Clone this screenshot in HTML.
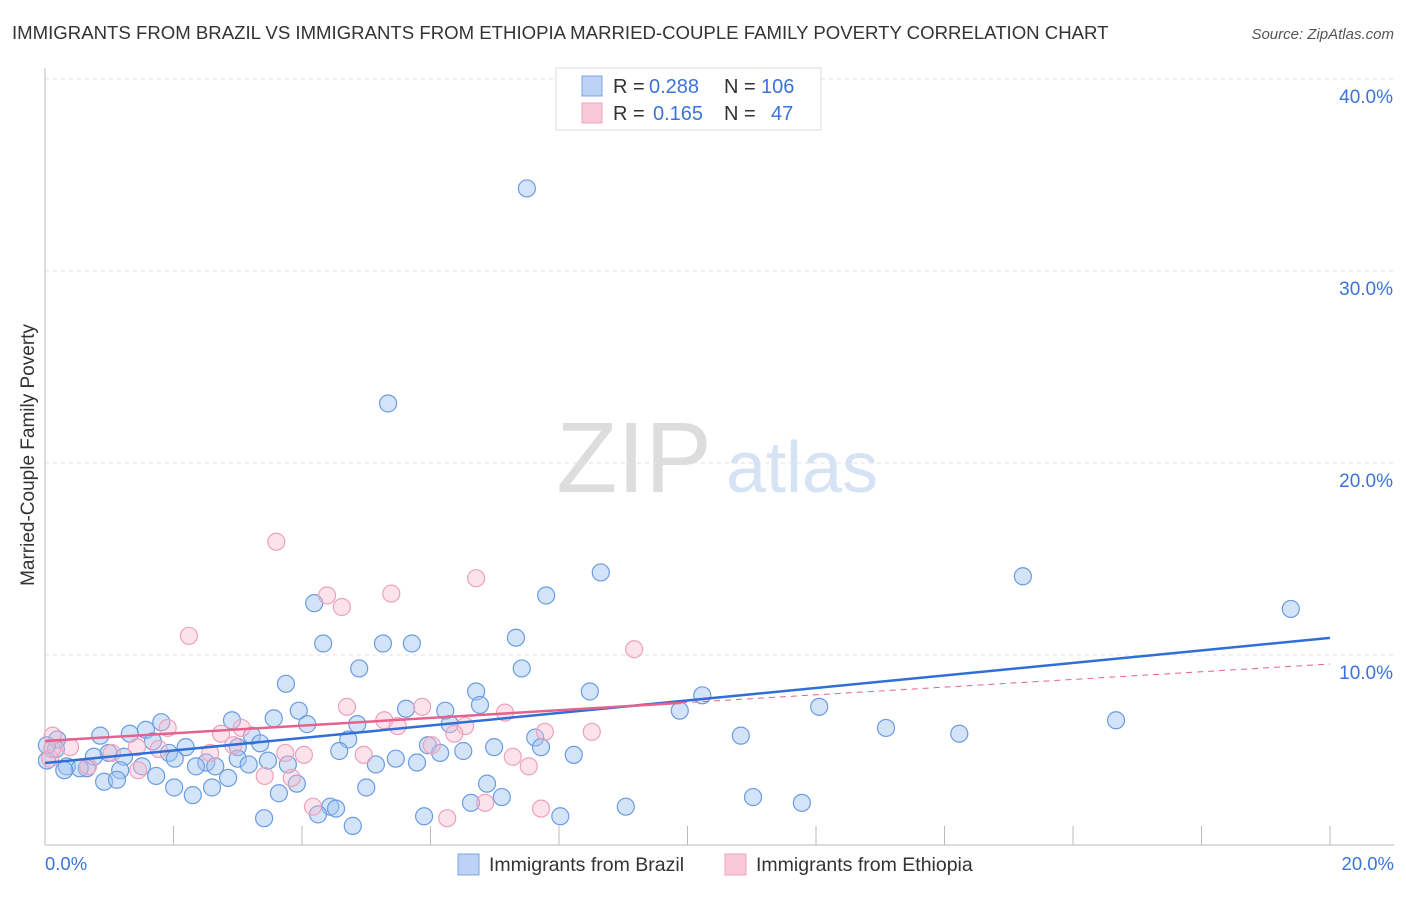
<!DOCTYPE html>
<html><head><meta charset="utf-8"><style>
body{margin:0;background:#fff;font-family:"Liberation Sans",sans-serif}
svg text{font-family:"Liberation Sans",sans-serif}
</style></head><body>
<svg id="chart" width="1406" height="892">
<text x="12" y="39" font-size="18.6" fill="#333">IMMIGRANTS FROM BRAZIL VS IMMIGRANTS FROM ETHIOPIA MARRIED-COUPLE FAMILY POVERTY CORRELATION CHART</text>
<text x="1394" y="39" font-size="15" fill="#555" font-style="italic" text-anchor="end">Source: ZipAtlas.com</text>
<text x="634" y="492" font-size="100" fill="#ddd" font-family="Liberation Serif" text-anchor="middle">ZIP</text>
<text x="802" y="492" font-size="72" fill="#d5e3f5" text-anchor="middle">atlas</text>
<g id="grid"></g><g id="ticks"></g>
<line x1="45" y1="68" x2="45" y2="845" stroke="#bbb"/>
<line x1="45" y1="845" x2="1394" y2="845" stroke="#bbb"/>
<text x="34" y="455" font-size="19" fill="#333" transform="rotate(-90 34 455)" text-anchor="middle">Married-Couple Family Poverty</text>
<text x="45" y="870" font-size="18.5" fill="#3a74d8">0.0%</text>
<text x="1394" y="870" font-size="18.5" fill="#3a74d8" text-anchor="end">20.0%</text>
<g id="pts"></g><g id="lines"></g>
<g>
<rect x="556" y="68" width="265" height="62" fill="#fff" stroke="#ddd"/>
<rect x="582" y="76" width="20" height="20" fill="#bcd3f5" stroke="#7aa5e6"/>
<rect x="582" y="103" width="20" height="20" fill="#f9c9d8" stroke="#eea3bd"/>
<text x="613" y="93" font-size="20" fill="#333">R =</text>
<text x="649" y="93" font-size="20" fill="#3a74d8">0.288</text>
<text x="724" y="93" font-size="20" fill="#333">N =</text>
<text x="761" y="93" font-size="20" fill="#3a74d8">106</text>
<text x="613" y="120" font-size="20" fill="#333">R =</text>
<text x="653" y="120" font-size="20" fill="#3a74d8">0.165</text>
<text x="724" y="120" font-size="20" fill="#333">N =</text>
<text x="771" y="120" font-size="20" fill="#3a74d8">47</text>
</g>
<g>
<rect x="458" y="854" width="21" height="21" fill="#bcd3f5" stroke="#7aa5e6"/>
<text x="489" y="871" font-size="19.5" fill="#333">Immigrants from Brazil</text>
<rect x="725" y="854" width="21" height="21" fill="#f9c9d8" stroke="#eea3bd"/>
<text x="756" y="871" font-size="19.5" fill="#333">Immigrants from Ethiopia</text>
</g>
</svg>
<script>
const yTicks=[10,20,30,40];
const yTickLabels=["10.0%","20.0%","30.0%","40.0%"];
const xTickVals=[0,2,4,6,8,10,12,14,16,18,20];
const brazilX=[7.50,5.34,8.65,15.22,19.39,7.80,4.19,7.33,4.33,5.26,5.71,4.89,7.42,3.75,6.71,8.48,10.23,6.77,3.95,5.62,6.23,9.88,12.05,16.67,3.56,2.91,4.08,4.86,6.30,1.81,1.57,1.32,0.86,13.09,14.23,10.83,7.63,3.22,4.72,0.19,7.72,3.35,5.96,1.68,2.19,3.00,6.99,6.51,6.15,4.58,0.17,0.99,1.93,8.23,1.23,0.76,2.02,3.47,5.46,3.00,5.79,2.51,3.17,3.78,5.15,0.03,0.34,1.51,2.35,2.65,0.65,0.54,0.30,1.17,1.73,2.85,0.92,1.12,6.88,3.92,2.01,2.60,5.00,3.64,2.30,11.02,7.11,6.63,11.78,4.44,4.53,9.04,4.25,3.41,5.90,8.02,4.79,0.03];
const brazilY=[34.3,23.1,14.3,14.1,12.4,13.1,12.7,10.9,10.6,10.6,10.6,9.3,9.3,8.5,8.1,8.1,7.9,7.4,7.1,7.2,7.1,7.1,7.3,6.6,6.7,6.6,6.4,6.4,6.4,6.5,6.1,5.9,5.8,6.2,5.9,5.8,5.7,5.8,5.6,5.6,5.2,5.4,5.3,5.5,5.2,5.2,5.2,5.0,4.9,5.0,5.1,4.9,4.9,4.8,4.7,4.7,4.6,4.5,4.6,4.6,4.4,4.4,4.3,4.3,4.3,4.5,4.2,4.2,4.2,4.2,4.1,4.1,4.0,4.0,3.7,3.6,3.4,3.5,3.3,3.3,3.1,3.1,3.1,2.8,2.7,2.6,2.6,2.3,2.3,2.1,2.0,2.1,1.7,1.5,1.6,1.6,1.1,5.3];
const ethX=[3.60,6.71,4.39,5.39,4.62,2.24,9.17,4.70,5.87,7.16,5.28,1.91,2.74,3.06,6.54,8.51,7.78,0.12,6.37,5.49,2.93,1.77,0.39,6.02,2.57,3.74,4.03,4.96,1.04,1.43,7.28,0.08,0.67,1.45,7.53,3.42,3.84,4.17,6.85,7.72,6.26,0.11];
const ethY=[15.9,14.0,13.1,13.2,12.5,11.0,10.3,7.3,7.3,7.0,6.6,6.2,5.9,6.2,6.3,6.0,6.0,5.8,5.9,6.3,5.3,5.1,5.2,5.3,4.9,4.9,4.8,4.8,4.9,5.2,4.7,4.6,4.2,4.0,4.2,3.7,3.6,2.1,2.3,2.0,1.5,5.1];
const brazilTrend=[4.375,10.89];
const ethTrend=[5.52,9.53];
const ethSolidEnd=9.9;
const X=v=>45+v/20*1285, Y=v=>847-v*19.2;
const NS="http://www.w3.org/2000/svg";
function mk(t,a,p){const e=document.createElementNS(NS,t);for(const k in a)e.setAttribute(k,a[k]);p.appendChild(e);return e;}
const grid=document.getElementById('grid'),ticks=document.getElementById('ticks'),pts=document.getElementById('pts'),lines=document.getElementById('lines');
yTicks.forEach((v,i)=>{
 const l=mk('line',{x1:45,x2:1394,y1:Y(v),y2:Y(v),stroke:'#e2e2e2','stroke-dasharray':'4,4'},grid);
 
 
 const t=mk('text',{x:1393,y:Y(v)+24,'font-size':19,fill:'#3a74d8','text-anchor':'end'},grid);
 t.textContent=yTickLabels[i];
 
 
});
xTickVals.forEach(v=>{
 const l=mk('line',{x1:X(v),x2:X(v),y1:826,y2:845,stroke:'#bbb'},ticks);
 
 
});
brazilX.forEach((x,i)=>{
 const c=mk('circle',{cx:X(x),cy:Y(brazilY[i]),r:8.5,fill:'rgba(160,195,240,0.45)',stroke:'#6a9ce2','stroke-width':1.2},pts);
 
 
});
ethX.forEach((x,i)=>{
 const c=mk('circle',{cx:X(x),cy:Y(ethY[i]),r:8.5,fill:'rgba(248,185,205,0.4)',stroke:'#eca2bc','stroke-width':1.2},pts);
 
 
});
const ety=x=>ethTrend[0]+(ethTrend[1]-ethTrend[0])*x/20;
const bl=mk('line',{x1:X(0),y1:Y(brazilTrend[0]),x2:X(20),y2:Y(brazilTrend[1]),stroke:'#2f6fd6','stroke-width':2.5},lines);


const el=mk('line',{x1:X(0),y1:Y(ety(0)),x2:X(ethSolidEnd),y2:Y(ety(ethSolidEnd)),stroke:'#e5628d','stroke-width':2.5},lines);


const ed=mk('line',{x1:X(ethSolidEnd),y1:Y(ety(ethSolidEnd)),x2:X(20),y2:Y(ety(20)),stroke:'#e5628d','stroke-width':1,'stroke-dasharray':'6,5'},lines);


</script>
</body></html>
